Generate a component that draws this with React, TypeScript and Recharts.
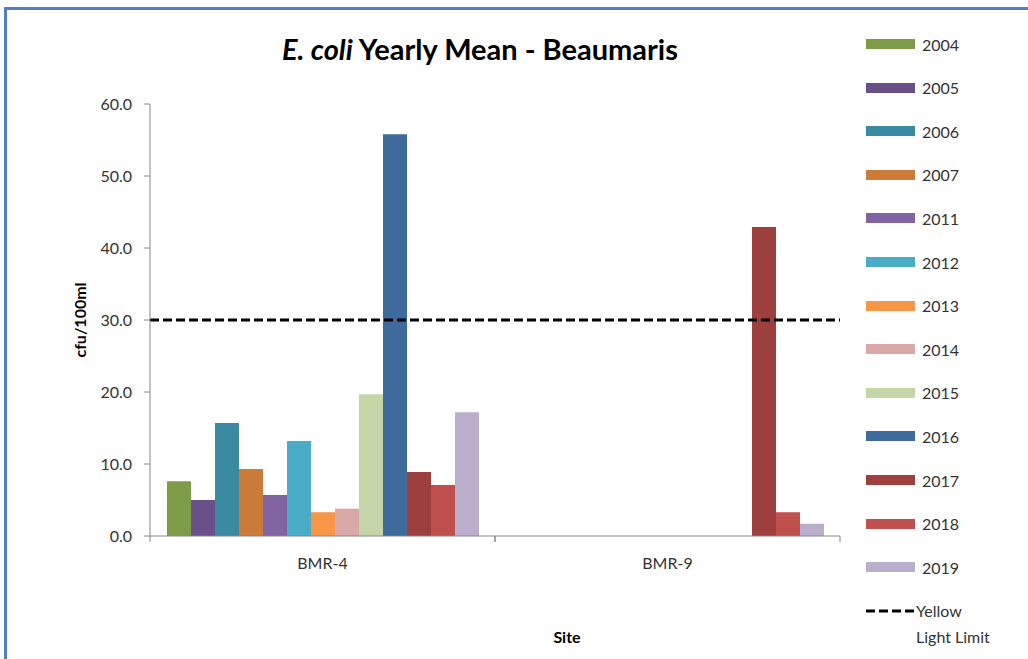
import React from 'react';
import { BarChart, Bar, XAxis, YAxis, ReferenceLine, Label, Legend } from 'recharts';

const sites = ['BMR-4', 'BMR-9'];
const years = ['2004', '2005', '2006', '2007', '2011', '2012', '2013', '2014', '2015', '2016', '2017', '2018', '2019'];
const bmr4 = [7.6, 5.0, 15.7, 9.3, 5.7, 13.2, 3.3, 3.8, 19.7, 55.8, 8.9, 7.1, 17.2];
const bmr9 = [null, null, null, null, null, null, null, null, null, null, 42.9, 3.3, 1.7];
const yTicks = [0, 10, 20, 30, 40, 50, 60];
const limit = 30;

const colors = ['#7e9b47', '#6a5089', '#3a8ba0', '#cc7b38', '#8064a2', '#4bacc6', '#f79646', '#d9a9a7', '#c4d6a8', '#3f6a9c', '#9c3f3d', '#c0504d', '#b9aecb'];

const data = sites.map((site, i) => {
  const row: any = { site };
  const vals = i === 0 ? bmr4 : bmr9;
  years.forEach((y, j) => { row[y] = vals[j]; });
  return row;
});

const FONT = 'Lato, "Open Sans", sans-serif';
const AXIS = '#868686';
const HALF_BAND = 172.5;

const SiteTick = (props: any) => {
  const { x, y, payload } = props;
  return (
    <g>
      <line x1={x - HALF_BAND} x2={x - HALF_BAND} y1={y} y2={y + 6} stroke={AXIS} />
      <line x1={x + HALF_BAND} x2={x + HALF_BAND} y1={y} y2={y + 6} stroke={AXIS} />
      <text x={x} y={y + 33} textAnchor="middle" fontFamily={FONT} fontSize={16} fill="#333">{payload.value}</text>
    </g>
  );
};

const LegendBox = () => (
  <div style={{ fontFamily: FONT, fontSize: 16, color: '#333' }}>
    {years.map((y, i) => (
      <div key={y} style={{ position: 'absolute', left: 0, top: i * 43.6, height: 20, display: 'flex', alignItems: 'center' }}>
        <div style={{ width: 49, height: 10, background: colors[i], marginRight: 7 }} />
        <span>{y}</span>
      </div>
    ))}
    <div style={{ position: 'absolute', left: 0, top: 13 * 43.6, display: 'flex', alignItems: 'flex-start' }}>
      <svg width={50} height={20}>
        <line x1={0} x2={48} y1={10} y2={10} stroke="#000" strokeWidth={3} strokeDasharray="9 4" />
      </svg>
      <span style={{ lineHeight: '26px', marginTop: -3 }}>Yellow<br />Light Limit</span>
    </div>
  </div>
);

export default function App() {
  return (
    <div style={{ position: 'absolute', left: 0, top: 0, width: 1028, height: 659, background: '#fff', overflow: 'hidden' }}>
      <div style={{ position: 'absolute', left: 4, top: 7, width: 1100, height: 700, borderLeft: '3px solid #4f81bd', borderTop: '3px solid #4f81bd' }} />
      <div style={{ position: 'absolute', left: 0, top: 31, width: 960, textAlign: 'center', fontFamily: FONT, fontWeight: 700, fontSize: 29, color: '#000' }}>
        <i>E. coli</i> Yearly Mean - Beaumaris
      </div>
      <BarChart
        width={1028}
        height={659}
        data={data}
        margin={{ top: 104, left: 90, right: 188, bottom: 93 }}
        barCategoryGap={17}
        barGap={0}
        style={{ position: 'absolute', left: 0, top: 0 }}
      >
        <XAxis dataKey="site" height={30} axisLine={{ stroke: AXIS }} tickLine={false} tickSize={0} tickMargin={0} tick={<SiteTick />} interval={0}>
          <Label value="Site" position="bottom" dx={72} dy={61} style={{ fontFamily: FONT, fontSize: 16, fontWeight: 700, fill: '#000' }} />
        </XAxis>
        <YAxis
          width={60}
          domain={[0, 60]}
          ticks={yTicks}
          tickFormatter={(v: number) => v.toFixed(1)}
          axisLine={{ stroke: AXIS }}
          tickLine={{ stroke: AXIS }}
          tickSize={6}
          tickMargin={12}
          tick={{ fontFamily: FONT, fontSize: 16, fill: '#333' }}
        >
          <Label value="cfu/100ml" angle={-90} position="center" dx={-40} style={{ fontFamily: FONT, fontSize: 16, fontWeight: 700, fill: '#000' }} />
        </YAxis>
        {years.map((y, i) => (
          <Bar key={y} dataKey={y} fill={colors[i]} isAnimationActive={false} />
        ))}
        <ReferenceLine y={limit} stroke="#000" strokeWidth={3} strokeDasharray="9 4" />
        <Legend content={<LegendBox />} wrapperStyle={{ position: 'absolute', left: 866, top: 34, width: 160 }} />
      </BarChart>
    </div>
  );
}
